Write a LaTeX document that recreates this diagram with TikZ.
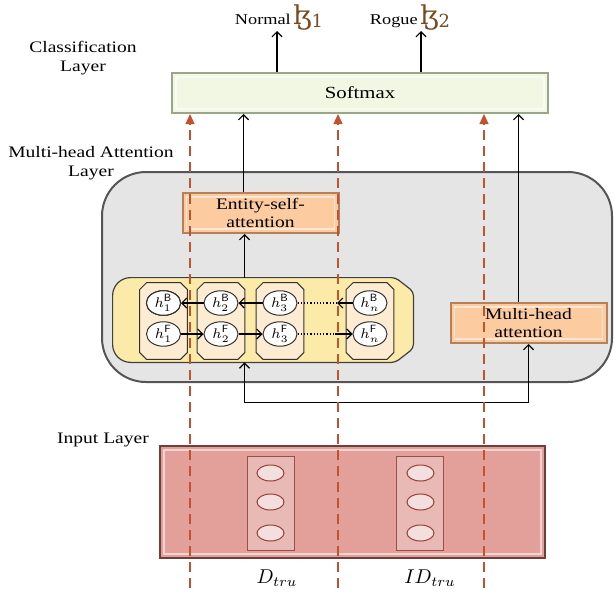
\documentclass[tikz,border=0pt]{standalone}
\usepackage{amsmath}
\usepackage{fontspec}
\setmainfont[FakeStretch=1.22]{Liberation Serif}
\newfontfamily\ipafont{DejaVu Serif}
\usepackage{xcolor}
\usetikzlibrary{arrows.meta,positioning,shapes.geometric,calc}

\definecolor{smfill}{HTML}{F1F7E2}
\definecolor{smline}{HTML}{9AA68A}
\definecolor{pnfill}{HTML}{E5E5E5}
\definecolor{pnline}{HTML}{555555}
\definecolor{atfill}{HTML}{FCCBA0}
\definecolor{atline}{HTML}{B88058}
\definecolor{ylfill}{HTML}{FCEBA8}
\definecolor{clfill}{HTML}{FDEBD2}
\definecolor{rdfill}{HTML}{E3A09A}
\definecolor{rdline}{HTML}{6E3E3A}
\definecolor{ftfill}{HTML}{E8B9B5}
\definecolor{ftline}{HTML}{9B4E46}
\definecolor{unfill}{HTML}{F3E0DE}
\definecolor{unline}{HTML}{9B3E36}
\definecolor{skcol}{HTML}{C0522C}
\definecolor{lezh}{HTML}{7A4A1E}

% octagon drawn round a named node, #2 = size of the cut
\newcommand{\chamferbox}[3][]{%
  \draw[#1] ([xshift=#3]#2.north west) -- ([xshift=-#3]#2.north east)
        -- ([yshift=-#3]#2.north east) -- ([yshift=#3]#2.south east)
        -- ([xshift=-#3]#2.south east) -- ([xshift=#3]#2.south west)
        -- ([yshift=#3]#2.south west) -- ([yshift=-#3]#2.north west) -- cycle;}

\begin{document}
\begin{tikzpicture}[
        x=0.5pt, y=-0.5pt, font=\fontsize{8}{9.5}\selectfont,
        every node/.style={align=center, inner sep=2pt},
        bevel/.style ={path picture={\draw[white, opacity=0.55, line width=0.8pt]
                         ([shift={(2pt,-2pt)}]path picture bounding box.north west) rectangle
                         ([shift={(-2pt,2pt)}]path picture bounding box.south east);}},
        softbox/.style={rectangle, draw=smline, fill=smfill, line width=1pt,
                        minimum width=188pt, minimum height=20pt,
                        font=\fontsize{8.5}{10}\selectfont, bevel},
        attn/.style   ={rectangle, draw=atline, fill=atfill, line width=1pt,
                        minimum width=78pt, minimum height=20pt, inner sep=1pt,
                        font=\fontsize{8}{8.6}\selectfont, bevel},
        panel/.style  ={rectangle, rounded corners=22pt, draw=pnline, fill=pnfill,
                        line width=1pt, minimum width=255pt, minimum height=105pt},
        area/.style   ={rectangle, minimum width=150pt, minimum height=42pt},
        ylline/.style ={draw=black!75, fill=ylfill, line width=0.6pt},
        cell/.style   ={rectangle, minimum width=23.5pt, minimum height=38pt, inner sep=0pt},
        cellline/.style={draw=black!80, fill=clfill, line width=0.5pt},
        hst/.style    ={ellipse, draw=black!80, fill=white, line width=0.5pt,
                        minimum width=17pt, minimum height=11.5pt, inner sep=0pt,
                        font=\fontsize{7.5}{8}\selectfont},
        inbox/.style  ={rectangle, draw=rdline, fill=rdfill, line width=1pt,
                        minimum width=192.5pt, minimum height=56pt, bevel},
        feat/.style   ={rectangle, draw=ftline, fill=ftfill, line width=0.5pt,
                        minimum width=23.5pt, minimum height=47pt},
        unit/.style   ={ellipse, draw=unline, fill=unfill, line width=0.5pt,
                        minimum width=13.5pt, minimum height=8pt, inner sep=0pt},
        lbl/.style    ={font=\fontsize{8}{9.5}\selectfont},
        outlbl/.style ={font=\fontsize{7.5}{8}\selectfont, inner sep=0pt},
        flow/.style   ={-{Straight Barb[length=2.5pt,width=5pt]}, line width=0.6pt},
        skip/.style   ={-{Triangle[length=5pt,width=4.5pt]}, draw=skcol,
                        line width=0.65pt, dash pattern=on 5pt off 3pt},
    ]
        \useasboundingbox (0,0) rectangle (614,594);

        % ===================== Classification layer =====================
        \node[lbl]     (cl)  at (83, 58)  {Classification\\Layer};
        \node[softbox] (sm)  at (360, 93) {Softmax};
        \node[outlbl]  (nrm) at (279, 18) {Normal\,{\color{lezh}\ipafont\fontsize{13}{13}\selectfont ɮ\raisebox{-1.5pt}{\fontsize{9}{9}\selectfont 1}}};
        \node[outlbl]  (rog) at (410, 18) {Rogue\,{\color{lezh}\ipafont\fontsize{13}{13}\selectfont ɮ\raisebox{-1.5pt}{\fontsize{9}{9}\selectfont 2}}};
        \coordinate (o1) at (277, 31);
        \coordinate (o2) at (421, 31);

        % ===================== Multi-head attention layer =====================
        \node[lbl]     (ml)  at (91, 163) {Multi-head Attention\\Layer};
        \node[panel]   (pn)  at (357, 277) {};
        \node[attn]    (ent) at (260.5, 213) {Entity-self-\\attention};
        \node[attn]    (mha) at (528.5, 323) {Multi-head\\attention};

        % --- yellow area: rounded on the left, cut on the right ---
        \node[area]    (yel) at (263, 320) {};
        \draw[ylline, rounded corners=2pt]
            ([xshift=-9pt]yel.north east) -- ([yshift=-7pt]yel.north east)
            -- ([yshift=7pt]yel.south east) -- ([xshift=-9pt]yel.south east)
            {[rounded corners=9pt] -- (yel.south west) -- (yel.north west)} -- cycle;

        % --- columns of hidden states ---
        \node[cell]    (c1) at (163.5, 321) {};
        \node[cell]    (c2) at (221, 321) {};
        \node[cell]    (c3) at (280, 321) {};
        \node[cell]    (cn) at (370, 321) {};
        \foreach \c in {c1, c2, c3, cn}
            \chamferbox[cellline]{\c}{3.5pt}
        \node[hst] (b1) at (163.5, 303) {$h_1^{\mathsf{B}}$};
        \node[hst] (b2) at (221, 303)   {$h_2^{\mathsf{B}}$};
        \node[hst] (b3) at (280, 303)   {$h_3^{\mathsf{B}}$};
        \node[hst] (bn) at (370, 303)   {$h_n^{\mathsf{B}}$};
        \node[hst] (f1) at (163.5, 334) {$h_1^{\mathsf{F}}$};
        \node[hst] (f2) at (221, 334)   {$h_2^{\mathsf{F}}$};
        \node[hst] (f3) at (280, 334)   {$h_3^{\mathsf{F}}$};
        \node[hst] (fn) at (370, 334)   {$h_n^{\mathsf{F}}$};
        \coordinate (bx) at (337, 303);
        \coordinate (fx) at (335, 334);

        % ===================== Input layer =====================
        \node[lbl]     (il)  at (103, 440) {Input Layer};
        \node[inbox]   (inp) at (352.5, 502) {};
        \node[feat]    (dt)  at (270.5, 503) {};
        \node[feat]    (it)  at (420, 503) {};
        \foreach \y [count=\k] in {473, 502, 533} {
            \node[unit] (du\k) at (270.5, \y) {};
            \node[unit] (iu\k) at (420.5, \y) {};
        }
        \node[font=\fontsize{10}{11}\selectfont] (dl) at (277, 578) {$D_{tru}$};
        \node[font=\fontsize{10}{11}\selectfont] (il2) at (430, 578) {$I D_{tru}$};

        % ===================== Arrows =====================
        \draw[flow] (b3) -- (b2);
        \draw[flow] (b2) -- (b1);
        \draw[densely dotted, line width=0.6pt] (b3) -- (bx);
        \draw[flow] (bn) -- (bx);
        \draw[flow] (f1) -- (f2);
        \draw[flow] (f2) -- (f3);
        \draw[densely dotted, line width=0.6pt] (f3) -- (fx);
        \draw[flow] (fx) -- (fn);

        \path ([xshift=-8pt]ent.south) coordinate (ein);
        \path ([xshift=-8.5pt]ent.north) coordinate (eout);
        \path ([xshift=-5pt]mha.north) coordinate (mout);
        \draw[flow] (yel.north -| ein) -- (ein);
        \draw[flow] (eout) -- (sm.south -| eout);
        \draw[flow] (mout) -- (sm.south -| mout);
        \draw[{Straight Barb[length=2.5pt,width=5pt]}-{Straight Barb[length=2.5pt,width=5pt]}, line width=0.6pt]
            (yel.south -| ein) -- ++(0, 40) -| (mha.south);
        \draw[flow] (sm.north -| o1) -- (o1);
        \draw[flow] (sm.north -| o2) -- (o2);

        % Dashed skip links from the input up to softmax.
        \coordinate (d1) at (190, 588);
        \coordinate (d2) at (338, 588);
        \coordinate (d3) at (484, 588);
        \foreach \d in {d1, d2, d3}
            \draw[skip] (\d) -- (sm.south -| \d);
    \end{tikzpicture}
\end{document}
